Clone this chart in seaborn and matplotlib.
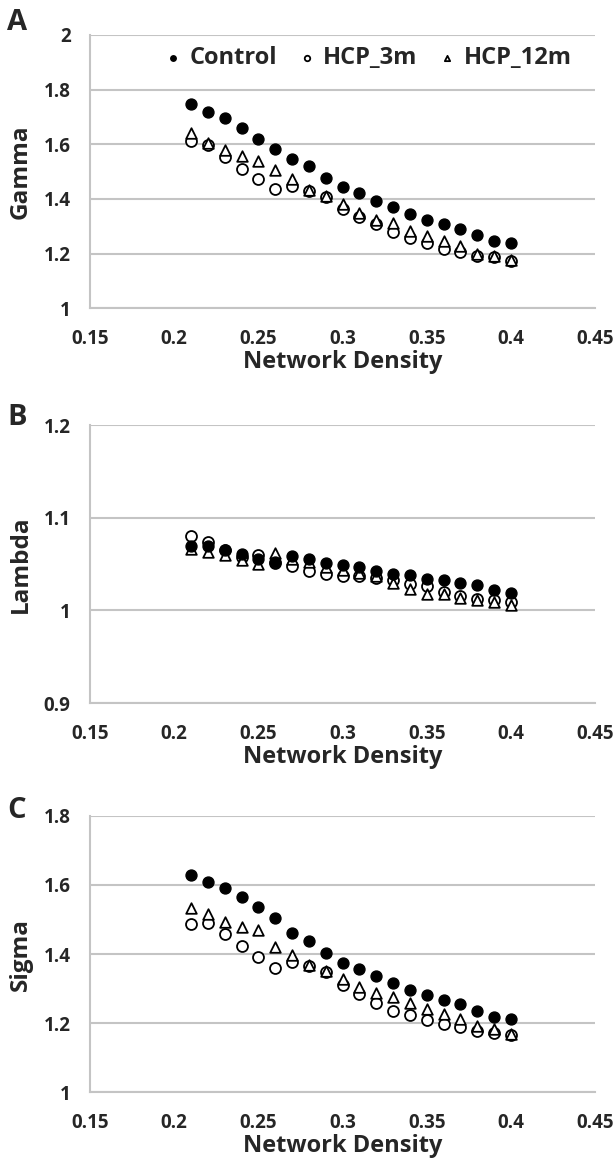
import numpy as np
import pandas as pd
import matplotlib
matplotlib.use('Agg')
import matplotlib.pyplot as plt
import seaborn as sns

density = [0.21, 0.22, 0.23, 0.24, 0.25, 0.26, 0.27, 0.28, 0.29, 0.30,
           0.31, 0.32, 0.33, 0.34, 0.35, 0.36, 0.37, 0.38, 0.39, 0.40]

gamma_control = [1.746, 1.719, 1.695, 1.661, 1.619, 1.582, 1.545, 1.521, 1.476, 1.443,
                 1.421, 1.393, 1.371, 1.344, 1.323, 1.309, 1.290, 1.268, 1.246, 1.237]
gamma_3m = [1.610, 1.598, 1.555, 1.510, 1.472, 1.437, 1.448, 1.428, 1.408, 1.363,
            1.333, 1.309, 1.280, 1.256, 1.240, 1.218, 1.205, 1.190, 1.186, 1.171]
gamma_12m = [1.640, 1.603, 1.579, 1.557, 1.540, 1.506, 1.472, 1.432, 1.410, 1.380,
             1.348, 1.323, 1.311, 1.282, 1.264, 1.246, 1.226, 1.199, 1.192, 1.177]

lambda_control = [1.069, 1.069, 1.0657, 1.061, 1.0556, 1.052, 1.0585, 1.0556, 1.0513, 1.0487,
                  1.0466, 1.0422, 1.0397, 1.0378, 1.034, 1.033, 1.0295, 1.0277, 1.0223, 1.0187]
lambda_3m = [1.080, 1.0736, 1.065, 1.058, 1.0596, 1.051, 1.0477, 1.042, 1.0397, 1.0368,
             1.0368, 1.035, 1.033, 1.028, 1.026, 1.020, 1.016, 1.0126, 1.011, 1.009]
lambda_12m = [1.066, 1.063, 1.060, 1.054, 1.0505, 1.062, 1.0556, 1.052, 1.047, 1.044,
              1.040, 1.0375, 1.030, 1.0234, 1.018, 1.018, 1.0137, 1.011, 1.009, 1.0054]

sigma_control = [1.629, 1.609, 1.592, 1.564, 1.535, 1.504, 1.461, 1.438, 1.404, 1.374,
                 1.358, 1.337, 1.315, 1.295, 1.281, 1.267, 1.254, 1.234, 1.217, 1.212]
sigma_3m = [1.488, 1.491, 1.457, 1.423, 1.390, 1.360, 1.377, 1.366, 1.349, 1.310,
            1.283, 1.259, 1.235, 1.223, 1.208, 1.198, 1.189, 1.177, 1.172, 1.165]
sigma_12m = [1.533, 1.515, 1.493, 1.477, 1.469, 1.420, 1.397, 1.368, 1.351, 1.327,
             1.303, 1.288, 1.274, 1.257, 1.240, 1.227, 1.212, 1.190, 1.182, 1.167]

panels = [
    ('A', 'Gamma', gamma_control, gamma_3m, gamma_12m, (1, 2), [1, 1.2, 1.4, 1.6, 1.8, 2]),
    ('B', 'Lambda', lambda_control, lambda_3m, lambda_12m, (0.9, 1.2), [0.9, 1.0, 1.1, 1.2]),
    ('C', 'Sigma', sigma_control, sigma_3m, sigma_12m, (1, 1.8), [1, 1.2, 1.4, 1.6, 1.8]),
]
xticks = [0.15, 0.2, 0.25, 0.3, 0.35, 0.4, 0.45]

sns.set_style('white')
plt.rcParams['font.family'] = ['Open Sans', 'DejaVu Sans']
plt.rcParams['font.weight'] = 'bold'

fig = plt.figure(figsize=(6.14, 11.63), dpi=100)
# axes boxes [left, bottom, width, height] in figure fractions
boxes = [[0.1466, 0.735, 0.8225, 0.235],
         [0.1466, 0.3955, 0.8225, 0.239],
         [0.1466, 0.061, 0.8225, 0.2374]]
letter_y = [0.981, 0.641, 0.303]

grid_col = '#c4c4c4'

for (letter, ylabel, ctrl, m3, m12, ylim, yticks), box, ly in zip(panels, boxes, letter_y):
    ax = fig.add_axes(box)
    df = pd.DataFrame({'density': density, 'Control': ctrl, 'HCP_3m': m3, 'HCP_12m': m12})
    sns.scatterplot(data=df, x='density', y='HCP_3m', marker='o', color='white',
                    edgecolor='black', linewidth=1.3, s=62, ax=ax, zorder=3, label='HCP_3m')
    sns.scatterplot(data=df, x='density', y='HCP_12m', marker='^', color='white',
                    edgecolor='black', linewidth=1.3, s=58, ax=ax, zorder=4, label='HCP_12m')
    sns.scatterplot(data=df, x='density', y='Control', marker='o', color='black',
                    edgecolor='black', linewidth=1.0, s=62, ax=ax, zorder=5, label='Control')

    ax.set_xlim(0.15, 0.45)
    ax.set_ylim(*ylim)
    ax.set_xticks(xticks)
    ax.set_xticklabels([f'{t:g}' for t in xticks])
    ax.set_yticks(yticks)
    ax.set_yticklabels([f'{t:g}' for t in yticks])
    ax.yaxis.grid(True, color=grid_col, linewidth=1.5)
    ax.xaxis.grid(False)
    ax.set_axisbelow(True)
    for side in ['top', 'right']:
        ax.spines[side].set_visible(False)
    ax.spines['left'].set_color(grid_col)
    ax.spines['left'].set_linewidth(1.5)
    ax.spines['bottom'].set_color(grid_col)
    ax.spines['bottom'].set_linewidth(1.5)
    ax.tick_params(axis='both', length=0, labelsize=13.5)
    ax.tick_params(axis='x', pad=15)
    ax.tick_params(axis='y', pad=14)
    for lab in ax.get_xticklabels() + ax.get_yticklabels():
        lab.set_fontweight('bold')
    ax.set_xlabel('Network Density', fontsize=17, fontweight='bold', labelpad=1)
    ax.set_ylabel(ylabel, fontsize=17.5, fontweight='bold', labelpad=8)

    if letter == 'A':
        h, l = ax.get_legend_handles_labels()
        order = [l.index('Control'), l.index('HCP_3m'), l.index('HCP_12m')]
        ax.legend([h[i] for i in order], [l[i] for i in order], ncol=3, frameon=False,
                  loc='center', bbox_to_anchor=(0.55, 0.916), markerscale=0.5,
                  prop={'size': 17, 'weight': 'bold'}, handletextpad=0.3,
                  columnspacing=0.85, handlelength=0.8)
    else:
        ax.get_legend().remove()

    fig.text(0.012, ly, letter, fontsize=21, fontweight='bold', ha='left', va='center')

fig.savefig('out.png', dpi=100)
